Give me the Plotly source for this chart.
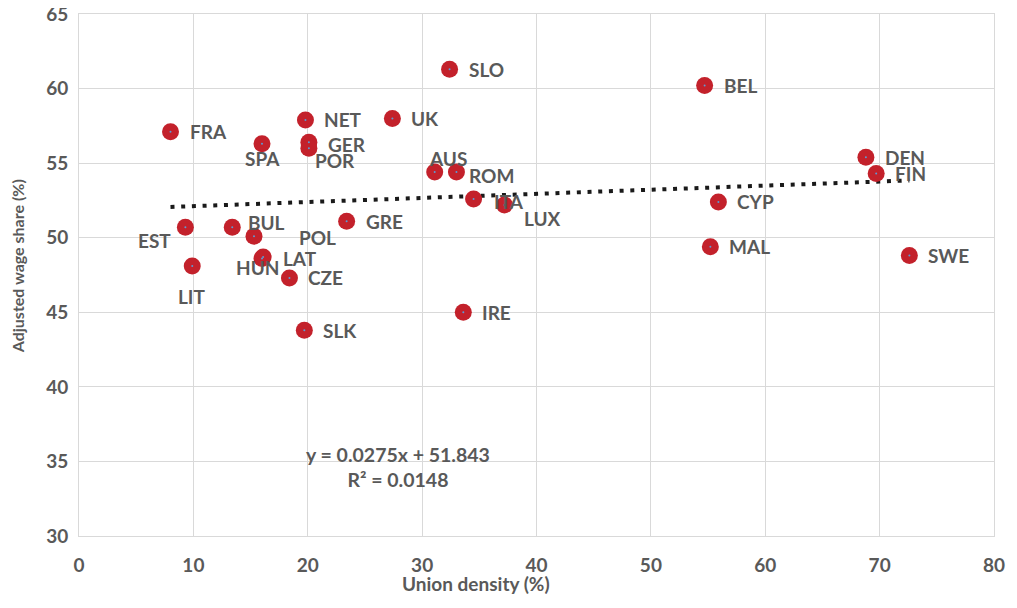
import plotly.graph_objects as go

# ---- data ----
countries = ["FRA", "SLO", "BEL", "NET", "UK", "GER", "POR", "SPA", "AUS", "ROM",
             "DEN", "FIN", "ITA", "LUX", "CYP", "GRE", "EST", "BUL", "POL", "MAL",
             "SWE", "LIT", "HUN", "LAT", "CZE", "SLK", "IRE"]
union_density = [8.0, 32.4, 54.7, 19.8, 27.4, 20.1, 20.1, 16.0, 31.1, 33.0,
                 68.8, 69.7, 34.5, 37.2, 55.9, 23.4, 9.3, 13.4, 15.3, 55.2,
                 72.6, 9.9, 16.0, 16.1, 18.4, 19.7, 33.6]
wage_share = [57.1, 61.3, 60.2, 57.9, 58.0, 56.4, 56.0, 56.3, 54.4, 54.4,
              55.4, 54.3, 52.6, 52.2, 52.4, 51.1, 50.7, 50.7, 50.1, 49.4,
              48.8, 48.1, 48.6, 48.7, 47.3, 43.8, 45.0]
trend_slope = 0.0275
trend_intercept = 51.843
trend_r2 = 0.0148
x_ticks = [0, 10, 20, 30, 40, 50, 60, 70, 80]
y_ticks = [30, 35, 40, 45, 50, 55, 60, 65]

# ---- label placement (pixel offsets from the marker centre) ----
default_offset = (17, 0, "left")
label_offsets = {
    "POR": (4, -12, "left"),
    "SPA": (0, -15, "center"),
    "EST": (-12, -13, "right"),
    "BUL": (14, 5, "left"),
    "POL": (43, -1, "left"),
    "LAT": (18, -1, "left"),
    "HUN": (-5, -9, "center"),
    "LIT": (0, -30, "center"),
    "AUS": (13, 14, "center"),
    "ROM": (11, -3, "left"),
    "ITA": (18, -3, "left"),
    "LUX": (18, -14, "left"),
    "GER": (17, -2, "left"),
}

GRAY = "#595959"
GRID = "#d9d9d9"
FONT = "Lato"

fig = go.Figure()

# trendline from the regression equation, over the data's x span
xmin, xmax = min(union_density), max(union_density)
fig.add_trace(go.Scatter(
    x=[xmin, xmax],
    y=[trend_intercept + trend_slope * xmin, trend_intercept + trend_slope * xmax],
    mode="lines",
    line=dict(color="#1a1a1a", width=4, dash="4px,6.7px"),
    hoverinfo="skip", showlegend=False,
))

fig.add_trace(go.Scatter(
    x=union_density, y=wage_share, mode="markers",
    marker=dict(size=17, color="#C3212B", line=dict(width=0)),
    text=countries, showlegend=False,
))
fig.add_trace(go.Scatter(
    x=union_density, y=wage_share, mode="markers",
    marker=dict(size=2, color="#5b9bd5"),
    hoverinfo="skip", showlegend=False,
))

for c, xv, yv in zip(countries, union_density, wage_share):
    dx, dy, anchor = label_offsets.get(c, default_offset)
    fig.add_annotation(
        x=xv, y=yv, text=c, showarrow=False,
        xanchor=anchor, yanchor="middle", xshift=dx, yshift=dy,
        font=dict(family=FONT, size=19, color=GRAY, weight="bold"),
    )

fig.add_annotation(
    x=27.87, y=34.63, xref="x", yref="y",
    text=f"y = {trend_slope}x + {trend_intercept}<br>R² = {trend_r2}",
    showarrow=False, align="center",
    font=dict(family=FONT, size=19.5, color=GRAY, weight="bold"),
)

# axis titles
fig.add_annotation(
    x=0.4339, y=0, xref="paper", yref="paper", yanchor="middle", xanchor="center",
    yshift=-47, text="Union density (%)", showarrow=False,
    font=dict(family=FONT, size=19, color=GRAY, weight="bold"),
)
fig.add_annotation(
    x=0, y=0.5158, xref="paper", yref="paper", xanchor="center", yanchor="middle",
    xshift=-61.5, text="Adjusted wage share (%)", textangle=-90, showarrow=False,
    font=dict(family=FONT, size=16, color=GRAY, weight="bold"),
)

# the page body adds an 8px offset, so the figure is sized to fit the window
fig.update_layout(
    width=1009, height=600,
    margin=dict(l=71, r=23, t=6, b=72),
    paper_bgcolor="white", plot_bgcolor="white",
    font=dict(family=FONT, color=GRAY),
)
fig.update_xaxes(
    range=[0, 80], tickvals=x_ticks, showgrid=True, gridcolor=GRID, gridwidth=1,
    zeroline=False, showline=True, linecolor=GRID, linewidth=1, mirror=True,
    ticks="", ticklabelstandoff=12, automargin=False, ticklabeloverflow="allow",
    tickfont=dict(family=FONT, size=19, color=GRAY, weight="bold"),
)
fig.update_yaxes(
    range=[30, 65], tickvals=y_ticks, showgrid=True, gridcolor=GRID, gridwidth=1,
    zeroline=False, showline=True, linecolor=GRID, linewidth=1, mirror=True,
    ticks="", ticklabelstandoff=6, automargin=False, ticklabeloverflow="allow",
    tickfont=dict(family=FONT, size=19, color=GRAY, weight="bold"),
)

fig.write_html("out.html")
